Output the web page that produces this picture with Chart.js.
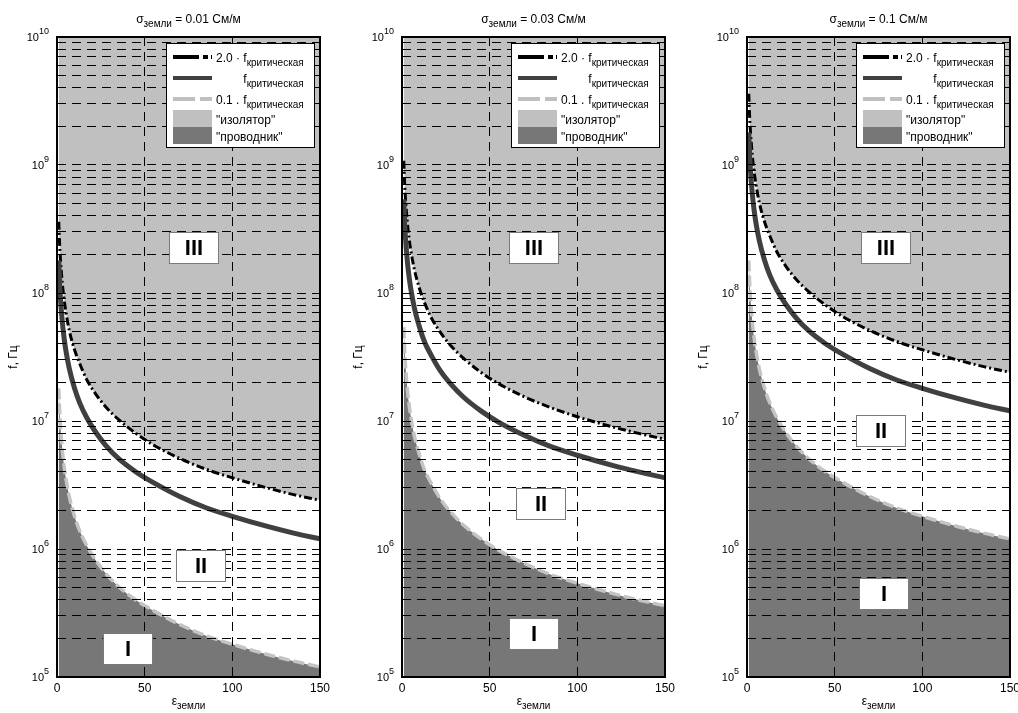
<!DOCTYPE html>
<html>
<head>
<meta charset="utf-8">
<script src="https://cdn.jsdelivr.net/npm/chart.js@4.4.0/dist/chart.umd.min.js"></script>
<style>
html, body { margin: 0; padding: 0; background: #fff; overflow: hidden; width: 1018px; height: 713px; }
canvas { position: absolute; top: 0; }
</style>
</head>
<body>
<canvas id="c0" width="339" height="713" style="left:0px"></canvas>
<canvas id="c1" width="339" height="713" style="left:345px"></canvas>
<canvas id="c2" width="339" height="713" style="left:690px"></canvas>
<script>
// ε земли
const epsilon = [1, 1.5, 2, 3, 4, 5, 7, 10, 13, 17, 22, 28, 35, 45, 55, 70, 85, 100, 120, 135, 150];

// σ = 0.01 См/м
const fCrit1 = [1.8e8, 1.2e8, 9.0e7, 6.0e7, 4.5e7, 3.6e7, 2.57e7, 1.8e7, 1.38e7, 1.06e7, 8.2e6, 6.4e6, 5.1e6, 4.0e6, 3.3e6, 2.57e6, 2.1e6, 1.8e6, 1.5e6, 1.33e6, 1.2e6];
const fHigh1 = [3.6e8, 2.4e8, 1.8e8, 1.2e8, 9.0e7, 7.2e7, 5.1e7, 3.6e7, 2.8e7, 2.1e7, 1.63e7, 1.28e7, 1.03e7, 8.0e6, 6.5e6, 5.1e6, 4.2e6, 3.6e6, 3.0e6, 2.66e6, 2.4e6];
const fLow1 = [1.8e7, 1.2e7, 9.0e6, 6.0e6, 4.5e6, 3.6e6, 2.57e6, 1.8e6, 1.38e6, 1.06e6, 8.2e5, 6.4e5, 5.1e5, 4.0e5, 3.3e5, 2.57e5, 2.1e5, 1.8e5, 1.5e5, 1.33e5, 1.2e5];

// σ = 0.03 См/м
const fCrit2 = [5.4e8, 3.6e8, 2.7e8, 1.8e8, 1.35e8, 1.08e8, 7.7e7, 5.4e7, 4.1e7, 3.2e7, 2.45e7, 1.93e7, 1.54e7, 1.2e7, 9.8e6, 7.7e6, 6.3e6, 5.4e6, 4.5e6, 4.0e6, 3.6e6];
const fHigh2 = [1.08e9, 7.2e8, 5.4e8, 3.6e8, 2.7e8, 2.16e8, 1.54e8, 1.08e8, 8.3e7, 6.3e7, 4.9e7, 3.85e7, 3.1e7, 2.4e7, 1.96e7, 1.54e7, 1.27e7, 1.08e7, 9.0e6, 8.0e6, 7.2e6];
const fLow2 = [5.4e7, 3.6e7, 2.7e7, 1.8e7, 1.35e7, 1.08e7, 7.7e6, 5.4e6, 4.1e6, 3.2e6, 2.45e6, 1.93e6, 1.54e6, 1.2e6, 9.8e5, 7.7e5, 6.3e5, 5.4e5, 4.5e5, 4.0e5, 3.6e5];

// σ = 0.1 См/м
const fCrit3 = [1.8e9, 1.2e9, 9.0e8, 6.0e8, 4.5e8, 3.6e8, 2.57e8, 1.8e8, 1.38e8, 1.06e8, 8.2e7, 6.4e7, 5.1e7, 4.0e7, 3.3e7, 2.57e7, 2.1e7, 1.8e7, 1.5e7, 1.33e7, 1.2e7];
const fHigh3 = [3.6e9, 2.4e9, 1.8e9, 1.2e9, 9.0e8, 7.2e8, 5.1e8, 3.6e8, 2.8e8, 2.1e8, 1.63e8, 1.28e8, 1.03e8, 8.0e7, 6.5e7, 5.1e7, 4.2e7, 3.6e7, 3.0e7, 2.66e7, 2.4e7];
const fLow3 = [1.8e8, 1.2e8, 9.0e7, 6.0e7, 4.5e7, 3.6e7, 2.57e7, 1.8e7, 1.38e7, 1.06e7, 8.2e6, 6.4e6, 5.1e6, 4.0e6, 3.3e6, 2.57e6, 2.1e6, 1.8e6, 1.5e6, 1.33e6, 1.2e6];

const sigmaLabels = ['0.01', '0.03', '0.1'];

// region labels I, II, III (ε, f)
const regionNames = ['I', 'II', 'III'];
const regionEps1 = [40, 82, 78];
const regionF1 = [1.67e5, 7.4e5, 2.27e8];
const regionEps2 = [75, 79, 75];
const regionF2 = [2.2e5, 2.27e6, 2.27e8];
const regionEps3 = [78, 76, 79];
const regionF3 = [4.5e5, 8.4e6, 2.27e8];

// axis ticks
const xTicks = [0, 50, 100, 150];
const yDecades = [5, 6, 7, 8, 9, 10];
const yMantissas = [1, 2, 3, 4, 5, 6, 7, 8, 9];

const yTickValues = [];
yDecades.forEach(d => {
    yMantissas.forEach(m => {
        if (d < 10 || m === 1) yTickValues.push(m * Math.pow(10, d));
    });
});

const FONT = '"Liberation Sans", Arial, sans-serif';
const font = (size, bold) => (bold ? 'bold ' : '') + size + 'px ' + FONT;

// text with a subscript, returns end x
function textSub(ctx, x, y, main, sub, mainSize, subSize, dy) {
    ctx.font = font(mainSize);
    ctx.fillText(main, x, y);
    const w = ctx.measureText(main).width;
    ctx.font = font(subSize);
    ctx.fillText(sub, x + w, y + dy);
    return w + ctx.measureText(sub).width;
}

function widthSub(ctx, main, sub, mainSize, subSize) {
    ctx.font = font(mainSize);
    const w = ctx.measureText(main).width;
    ctx.font = font(subSize);
    return w + ctx.measureText(sub).width;
}

function sample(ctx, x0, x1, y, color, width, dash) {
    ctx.save();
    ctx.beginPath();
    ctx.strokeStyle = color;
    ctx.lineWidth = width;
    ctx.setLineDash(dash);
    ctx.moveTo(x0, y);
    ctx.lineTo(x1, y);
    ctx.stroke();
    ctx.restore();
}

function drawLegend(ctx, a) {
    const L = Math.round(a.right) - 154, T = Math.round(a.top) + 6, W = 148, H = 104;
    ctx.fillStyle = '#fff';
    ctx.fillRect(L, T, W, H);
    ctx.strokeStyle = '#000';
    ctx.lineWidth = 1;
    ctx.strokeRect(L + 0.5, T + 0.5, W, H);

    const sx0 = L + 7, sx1 = L + 46, tx = L + 50;
    sample(ctx, sx0, sx1, T + 14, '#000', 4, [26, 4, 5, 3]);
    sample(ctx, sx0, sx1, T + 35, '#404040', 4, []);
    sample(ctx, sx0, sx1, T + 56, '#c0c0c0', 4, [22, 5]);
    ctx.fillStyle = '#c0c0c0';
    ctx.fillRect(sx0, T + 67, 39, 17);
    ctx.fillStyle = '#777777';
    ctx.fillRect(sx0, T + 84, 39, 17);

    ctx.fillStyle = '#000';
    ctx.textAlign = 'left';
    ctx.textBaseline = 'alphabetic';
    ctx.font = font(12);
    const fx = tx + ctx.measureText('2.0 · ').width;
    ctx.fillText('2.0 · ', tx, T + 19);
    textSub(ctx, fx, T + 19, 'f', 'критическая', 12, 10, 4);
    textSub(ctx, fx, T + 40, 'f', 'критическая', 12, 10, 4);
    ctx.font = font(12);
    ctx.fillText('0.1 . ', tx, T + 61);
    textSub(ctx, fx, T + 61, 'f', 'критическая', 12, 10, 4);
    ctx.font = font(12);
    ctx.fillText('"изолятор"', tx, T + 81);
    ctx.fillText('"проводник"', tx, T + 98);
}

const decorPlugin = {
    id: 'decor',
    afterDraw(chart, args, opts) {
        const { ctx, chartArea: a, scales: { x, y } } = chart;
        ctx.save();
        ctx.setLineDash([]);

        // region boxes
        regionNames.forEach((name, i) => {
            const px = x.getPixelForValue(opts.regX[i]);
            const py = y.getPixelForValue(opts.regY[i]);
            const bx = Math.round(px - 24.5), by = Math.round(py - 15.5);
            ctx.fillStyle = '#fff';
            ctx.fillRect(bx, by, 49, 31);
            ctx.strokeStyle = '#7a7a7a';
            ctx.lineWidth = 1;
            ctx.strokeRect(bx + 0.5, by + 0.5, 49, 31);
            ctx.fillStyle = '#000';
            ctx.font = font(22, true);
            ctx.textAlign = 'center';
            ctx.textBaseline = 'middle';
            ctx.fillText(name, bx + 25, by + 17);
        });

        drawLegend(ctx, a);

        // frame
        ctx.strokeStyle = '#000';
        ctx.lineWidth = 2;
        ctx.strokeRect(Math.round(a.left), Math.round(a.top), Math.round(a.right - a.left), Math.round(a.bottom - a.top));

        ctx.fillStyle = '#000';
        // x tick labels
        ctx.font = font(12);
        ctx.textAlign = 'center';
        ctx.textBaseline = 'top';
        xTicks.forEach(v => ctx.fillText(String(v), x.getPixelForValue(v), a.bottom + 6));

        // y tick labels 10^n
        yDecades.forEach(d => {
            const py = y.getPixelForValue(Math.pow(10, d));
            ctx.textBaseline = 'middle';
            ctx.textAlign = 'right';
            ctx.font = font(9);
            const ex = String(d);
            const ew = ctx.measureText(ex).width;
            const right = a.left - 8;
            ctx.fillText(ex, right, py - 5);
            ctx.font = font(11);
            ctx.fillText('10', right - ew, py + 1);
        });

        ctx.textAlign = 'left';
        ctx.textBaseline = 'alphabetic';
        const cx = (a.left + a.right) / 2;

        // title
        const tail = ' = ' + opts.sigma + ' См/м';
        const w1 = widthSub(ctx, 'σ', 'земли', 12, 10);
        ctx.font = font(12);
        const w2 = ctx.measureText(tail).width;
        let sx = cx - (w1 + w2) / 2;
        textSub(ctx, sx, 23, 'σ', 'земли', 12, 10, 4);
        ctx.font = font(12);
        ctx.fillText(tail, sx + w1, 23);

        // x title
        const wx = widthSub(ctx, 'ε', 'земли', 12, 10);
        textSub(ctx, cx - wx / 2, 705, 'ε', 'земли', 12, 10, 4);

        // y title
        ctx.translate(a.left - 43, (a.top + a.bottom) / 2);
        ctx.rotate(-Math.PI / 2);
        ctx.font = font(12);
        ctx.textAlign = 'center';
        ctx.textBaseline = 'middle';
        ctx.fillText('f, Гц', 0, 0);
        ctx.restore();
    }
};

const pts = arr => epsilon.map((e, i) => ({ x: e, y: arr[i] }));

function drawPanel(id, sigma, crit, high, low, regX, regY) {
    new Chart(document.getElementById(id), {
        type: 'line',
        data: {
            datasets: [
                {
                    label: 'f критическая',
                    data: pts(crit),
                    borderColor: '#404040',
                    borderWidth: 5,
                    fill: false
                },
                {
                    label: '2.0 · f критическая',
                    data: pts(high),
                    borderColor: '#000',
                    borderWidth: 3,
                    borderDash: [8, 3, 2, 3],
                    fill: 'end',
                    backgroundColor: '#c0c0c0'
                },
                {
                    label: '0.1 . f критическая',
                    data: pts(low),
                    borderColor: '#c4c4c4',
                    borderWidth: 3.5,
                    borderDash: [11, 4],
                    fill: 'start',
                    backgroundColor: '#777777'
                }
            ]
        },
        options: {
            responsive: false,
            animation: false,
            events: [],
            layout: { padding: { left: 57, right: 19, top: 37, bottom: 36 } },
            elements: {
                point: { radius: 0 },
                line: { cubicInterpolationMode: 'monotone' }
            },
            plugins: {
                legend: { display: false },
                tooltip: { enabled: false },
                decor: { sigma, regX, regY }
            },
            scales: {
                x: {
                    type: 'linear',
                    min: 0,
                    max: 150,
                    ticks: { display: false, stepSize: 50, autoSkip: false },
                    grid: { color: '#000', lineWidth: 1, drawTicks: false, z: 1 },
                    border: { display: false, dash: [9, 6] }
                },
                y: {
                    type: 'logarithmic',
                    min: 1e5,
                    max: 1e10,
                    ticks: { display: false, autoSkip: false },
                    afterBuildTicks: axis => { axis.ticks = yTickValues.map(value => ({ value })); },
                    grid: { color: '#000', lineWidth: 1, drawTicks: false, z: 1 },
                    border: { display: false, dash: [9, 6] }
                }
            }
        },
        plugins: [decorPlugin]
    });
}

drawPanel('c0', sigmaLabels[0], fCrit1, fHigh1, fLow1, regionEps1, regionF1);
drawPanel('c1', sigmaLabels[1], fCrit2, fHigh2, fLow2, regionEps2, regionF2);
drawPanel('c2', sigmaLabels[2], fCrit3, fHigh3, fLow3, regionEps3, regionF3);
</script>
</body>
</html>
